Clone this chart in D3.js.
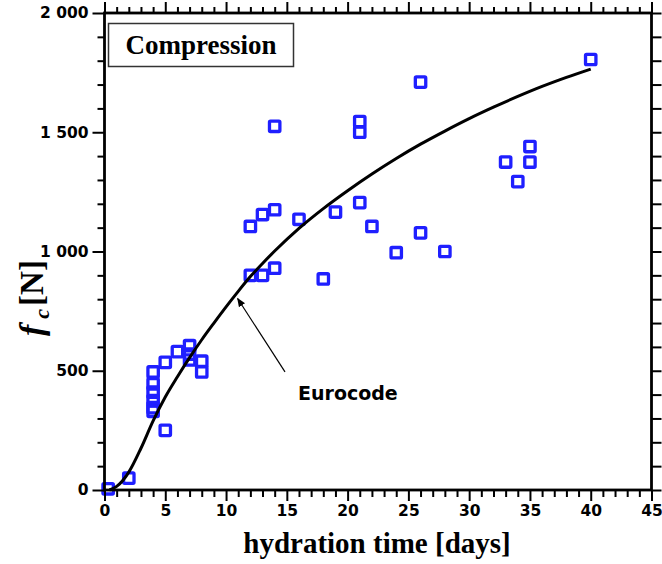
<!DOCTYPE html>
<html><head><meta charset="utf-8">
<script src="https://cdn.jsdelivr.net/npm/d3@7"></script>
<style>body{margin:0;background:#fff}svg{display:block}</style>
</head><body>
<svg id="c" width="662" height="564"></svg>
<script>
// measured data (hydration time [days], fc [N])
const measDays  = [0.3, 2, 4, 4, 4, 4, 4, 4, 5, 5, 6, 7, 7, 7, 8, 8,
                   12, 13, 14, 12, 13, 14, 14, 16, 18, 19, 21, 21, 21, 22, 24, 26, 26, 28, 33, 34, 35, 35, 40];
const measForce = [5, 50, 495, 445, 410, 375, 345, 330, 250, 535, 580, 605, 570, 545, 540, 495,
                   1105, 1155, 1175, 900, 900, 930, 1525, 1135, 885, 1165, 1545, 1500, 1205, 1105, 995, 1710, 1078, 1000, 1375, 1293, 1440, 1375, 1805];
// Eurocode curve
const codeDays  = [0.4, 1, 2, 3, 4, 5, 6, 7, 8, 9, 10, 11, 12, 13, 14, 16, 18, 20, 22, 24, 26, 28, 30, 32, 34, 36, 38, 40];
const codeForce = [0, 15, 75, 175, 290, 390, 475, 555, 630, 700, 768, 833, 895, 950, 1002, 1097, 1180, 1255, 1325, 1390, 1450, 1505, 1557, 1605, 1650, 1692, 1730, 1765];
const xTickVals = [0, 5, 10, 15, 20, 25, 30, 35, 40, 45];
const yTickVals = [0, 500, 1000, 1500, 2000];
const yTickLabels = ["0", "500", "1 000", "1 500", "2 000"];

const svg = d3.select("#c");
const L = 104.5, R = 651.5, T = 13, B = 490;
const x = d3.scaleLinear().domain([0, 45]).range([L, R]);
const y = d3.scaleLinear().domain([0, 2000]).range([B, T]);

// points
svg.append("g").selectAll("rect").data(measDays.map((d, i) => [d, measForce[i]]))
  .enter().append("rect")
  .attr("x", d => x(d[0]) - 5.2).attr("y", d => y(d[1]) - 5.2)
  .attr("width", 10.4).attr("height", 10.4).attr("rx", 1)
  .attr("fill", "none").attr("stroke", "#1f1fff").attr("stroke-width", 3.3);

// curve
svg.append("path")
  .datum(codeDays.map((d, i) => [d, codeForce[i]]))
  .attr("d", d3.line().x(d => x(d[0])).y(d => y(d[1])).curve(d3.curveMonotoneX))
  .attr("fill", "none").attr("stroke", "#000").attr("stroke-width", 3);

// axes
const tickFont = "DejaVu Sans, Verdana, sans-serif";
function styleAxis(g) {
  g.select(".domain").remove();
  g.selectAll("line").attr("stroke", "#000").attr("stroke-width", 2);
  g.selectAll("text").attr("font-family", tickFont).attr("font-weight", "bold")
    .attr("font-size", 15.5).attr("fill", "#000");
}
const xMinor = d3.range(0, 46, 1).filter(v => v % 5 !== 0);
const yMinor = d3.range(0, 2001, 100).filter(v => v % 500 !== 0);

// bottom
svg.append("g").attr("transform", `translate(0,${B})`)
  .call(d3.axisBottom(x).tickValues(xMinor).tickSize(7).tickFormat(""))
  .call(styleAxis);
svg.append("g").attr("transform", `translate(0,${B})`)
  .call(d3.axisBottom(x).tickValues(xTickVals).tickSize(11).tickPadding(4).tickFormat(d3.format("d")))
  .call(styleAxis);
// top
svg.append("g").attr("transform", `translate(0,${T})`)
  .call(d3.axisTop(x).tickValues(xMinor).tickSize(6).tickFormat(""))
  .call(styleAxis);
svg.append("g").attr("transform", `translate(0,${T})`)
  .call(d3.axisTop(x).tickValues(xTickVals).tickSize(11).tickFormat(""))
  .call(styleAxis);
// left
svg.append("g").attr("transform", `translate(${L},0)`)
  .call(d3.axisLeft(y).tickValues(yMinor).tickSize(7).tickFormat(""))
  .call(styleAxis);
svg.append("g").attr("transform", `translate(${L},0)`)
  .call(d3.axisLeft(y).tickValues(yTickVals).tickSize(12).tickPadding(4)
    .tickFormat((d, i) => yTickLabels[i]))
  .call(styleAxis);
// right
svg.append("g").attr("transform", `translate(${R},0)`)
  .call(d3.axisRight(y).tickValues(d3.range(0, 2001, 100)).tickSize(10).tickFormat(""))
  .call(styleAxis);

// frame
svg.append("rect").attr("x", L).attr("y", T).attr("width", R - L).attr("height", B - T)
  .attr("fill", "none").attr("stroke", "#000").attr("stroke-width", 2.8);

// title box
svg.append("rect").attr("x", 108.5).attr("y", 23.5).attr("width", 185).attr("height", 43)
  .attr("fill", "#fff").attr("stroke", "#333").attr("stroke-width", 1.5);
svg.append("text").attr("x", 201).attr("y", 53.5).attr("text-anchor", "middle")
  .attr("font-family", "Liberation Serif, Times New Roman, serif").attr("font-weight", "bold")
  .attr("font-size", 27).text("Compression");

// annotation
svg.append("defs").append("marker").attr("id", "ah").attr("viewBox", "0 0 10 10")
  .attr("refX", 9).attr("refY", 5).attr("markerWidth", 9).attr("markerHeight", 9)
  .attr("markerUnits", "userSpaceOnUse").attr("orient", "auto")
  .append("path").attr("d", "M0,1 L10,5 L0,9 Z").attr("fill", "#000");
svg.append("line").attr("x1", x(14.85)).attr("y1", y(495)).attr("x2", x(10.95)).attr("y2", y(803))
  .attr("stroke", "#000").attr("stroke-width", 1.2).attr("marker-end", "url(#ah)");
svg.append("text").attr("x", 298).attr("y", 399.5)
  .attr("font-family", tickFont).attr("font-weight", "bold").attr("font-size", 19).text("Eurocode");

// axis titles
svg.append("text").attr("x", 377).attr("y", 553).attr("text-anchor", "middle")
  .attr("font-family", "Liberation Serif, Times New Roman, serif").attr("font-weight", "bold")
  .attr("font-size", 29).text("hydration time [days]");
const yl = svg.append("text").attr("transform", "translate(43,336) rotate(-90)")
  .attr("font-family", "Liberation Serif, Times New Roman, serif").attr("font-weight", "bold");
yl.append("tspan").attr("font-style", "italic").attr("font-size", 34).text("f");
yl.append("tspan").attr("font-style", "italic").attr("font-size", 22).attr("dx", 6).attr("dy", 6).text("c");
yl.append("tspan").attr("font-size", 33).attr("dx", 3).attr("dy", -6).text("[N]");
</script>
</body></html>
